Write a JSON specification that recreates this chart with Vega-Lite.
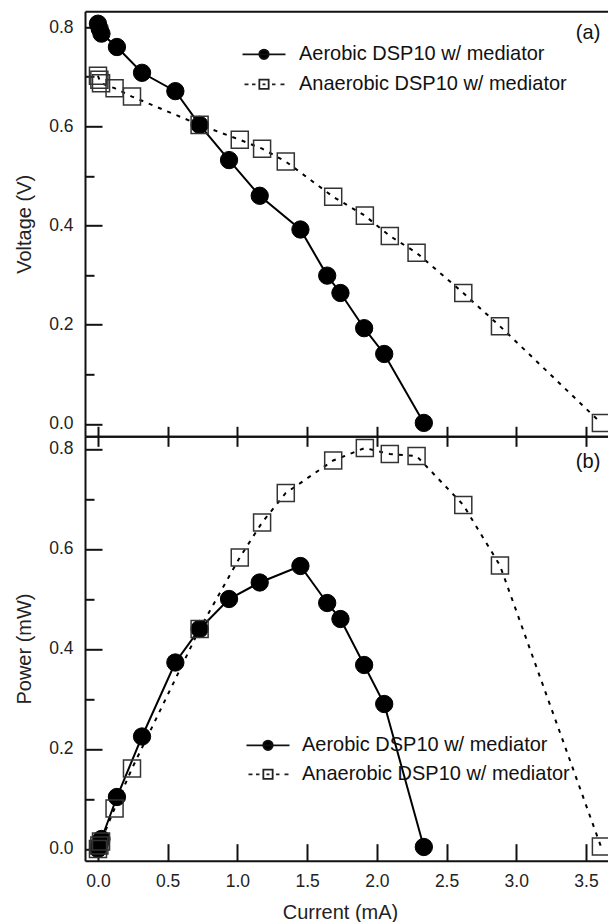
{
  "$schema": "https://vega.github.io/schema/vega-lite/v6.json",
  "padding": {"left": 14, "top": 11.3, "right": 0, "bottom": 0},
  "autosize": {"type": "pad"},
  "config": {
    "font": "Liberation Sans",
    "view": {"stroke": null},
    "axis": {"domainColor": "#111", "domainWidth": 2, "tickColor": "#111", "tickWidth": 2, "labelFontSize": 17.5, "labelColor": "#222", "titleFontSize": 20, "titleFontWeight": "normal", "titleColor": "#222", "grid": false, "labelFlush": false, "labelOverlap": false}
  },
  "data": {"values": [
    {"s": "Aerobic DSP10 w/ mediator", "i": 0.000, "v": 0.807, "p": 0.000},
    {"s": "Aerobic DSP10 w/ mediator", "i": 0.012, "v": 0.797, "p": 0.010},
    {"s": "Aerobic DSP10 w/ mediator", "i": 0.025, "v": 0.787, "p": 0.020},
    {"s": "Aerobic DSP10 w/ mediator", "i": 0.136, "v": 0.760, "p": 0.104},
    {"s": "Aerobic DSP10 w/ mediator", "i": 0.316, "v": 0.708, "p": 0.225},
    {"s": "Aerobic DSP10 w/ mediator", "i": 0.555, "v": 0.671, "p": 0.373},
    {"s": "Aerobic DSP10 w/ mediator", "i": 0.729, "v": 0.603, "p": 0.440},
    {"s": "Aerobic DSP10 w/ mediator", "i": 0.940, "v": 0.532, "p": 0.500},
    {"s": "Aerobic DSP10 w/ mediator", "i": 1.160, "v": 0.460, "p": 0.533},
    {"s": "Aerobic DSP10 w/ mediator", "i": 1.452, "v": 0.392, "p": 0.566},
    {"s": "Aerobic DSP10 w/ mediator", "i": 1.644, "v": 0.299, "p": 0.492},
    {"s": "Aerobic DSP10 w/ mediator", "i": 1.739, "v": 0.264, "p": 0.460},
    {"s": "Aerobic DSP10 w/ mediator", "i": 1.909, "v": 0.193, "p": 0.368},
    {"s": "Aerobic DSP10 w/ mediator", "i": 2.053, "v": 0.141, "p": 0.290},
    {"s": "Aerobic DSP10 w/ mediator", "i": 2.337, "v": 0.002, "p": 0.004},
    {"s": "Anaerobic DSP10 w/ mediator", "i": 0.000, "v": 0.702, "p": 0.000},
    {"s": "Anaerobic DSP10 w/ mediator", "i": 0.010, "v": 0.694, "p": 0.007},
    {"s": "Anaerobic DSP10 w/ mediator", "i": 0.022, "v": 0.687, "p": 0.015},
    {"s": "Anaerobic DSP10 w/ mediator", "i": 0.119, "v": 0.677, "p": 0.081},
    {"s": "Anaerobic DSP10 w/ mediator", "i": 0.244, "v": 0.660, "p": 0.161},
    {"s": "Anaerobic DSP10 w/ mediator", "i": 0.729, "v": 0.603, "p": 0.440},
    {"s": "Anaerobic DSP10 w/ mediator", "i": 1.017, "v": 0.573, "p": 0.583},
    {"s": "Anaerobic DSP10 w/ mediator", "i": 1.177, "v": 0.555, "p": 0.653},
    {"s": "Anaerobic DSP10 w/ mediator", "i": 1.347, "v": 0.529, "p": 0.712},
    {"s": "Anaerobic DSP10 w/ mediator", "i": 1.687, "v": 0.458, "p": 0.777},
    {"s": "Anaerobic DSP10 w/ mediator", "i": 1.914, "v": 0.420, "p": 0.802},
    {"s": "Anaerobic DSP10 w/ mediator", "i": 2.093, "v": 0.379, "p": 0.790},
    {"s": "Anaerobic DSP10 w/ mediator", "i": 2.285, "v": 0.345, "p": 0.786},
    {"s": "Anaerobic DSP10 w/ mediator", "i": 2.620, "v": 0.264, "p": 0.688},
    {"s": "Anaerobic DSP10 w/ mediator", "i": 2.883, "v": 0.197, "p": 0.567},
    {"s": "Anaerobic DSP10 w/ mediator", "i": 3.607, "v": 0.002, "p": 0.005}
  ]},
  "bounds": "flush",
  "spacing": 0,
  "resolve": {"scale": {"shape": "independent", "fill": "independent", "stroke": "independent"}, "legend": {"shape": "independent", "fill": "independent", "stroke": "independent"}},
  "vconcat": [
    {
      "width": 523.3,
      "height": 425,
      "title": {"text": "(a)", "orient": "top", "anchor": "end", "frame": "group", "offset": -32, "fontSize": 20, "fontWeight": "normal", "color": "#111", "dx": -8},
      "resolve": {"axis": {"x": "independent"}},
      "layer": [
        {
          "transform": [{"filter": "datum.s === 'Aerobic DSP10 w/ mediator'"}],
          "mark": {"type": "line", "color": "black", "strokeWidth": 2},
          "encoding": {
            "x": {"field": "i", "type": "quantitative", "scale": {"domain": [-0.093, 3.66], "nice": false, "zero": false},
                  "axis": {"orient": "bottom", "values": [0, 0.5, 1, 1.5, 2, 2.5, 3, 3.5], "labels": false, "tickSize": 10, "title": null}},
            "y": {"field": "v", "type": "quantitative", "scale": {"domain": [-0.025, 0.832], "nice": false, "zero": false},
                  "axis": {"values": [0, 0.05, 0.1, 0.15, 0.2, 0.25, 0.3, 0.35, 0.4, 0.45, 0.5, 0.55, 0.6, 0.65, 0.7, 0.75, 0.8],
                           "labelExpr": "abs(datum.value*5 - round(datum.value*5)) < 0.001 ? format(datum.value, '.1f') : ''",
                           "tickSize": {"condition": {"test": "abs(datum.value*5 - round(datum.value*5)) < 0.001", "value": -17}, "value": -9},
                           "labelPadding": 29, "title": "Voltage (V)", "titlePadding": 14}}
          }
        },
        {
          "transform": [{"filter": "datum.s === 'Anaerobic DSP10 w/ mediator'"}],
          "mark": {"type": "line", "color": "black", "strokeWidth": 2, "strokeDash": [4, 6]},
          "encoding": {
            "x": {"field": "i", "type": "quantitative", "axis": {"orient": "top", "labels": false, "ticks": false, "title": null}},
            "y": {"field": "v", "type": "quantitative"}
          }
        },
        {
          "transform": [{"filter": "datum.s === 'Aerobic DSP10 w/ mediator'"}],
          "mark": {"type": "point", "shape": "circle", "size": 300, "filled": true, "fill": "black", "stroke": "black", "strokeWidth": 1, "opacity": 1, "clip": true},
          "encoding": {
            "x": {"field": "i", "type": "quantitative", "axis": null},
            "y": {"field": "v", "type": "quantitative"}
          }
        },
        {
          "transform": [{"filter": "datum.s === 'Anaerobic DSP10 w/ mediator'"}],
          "mark": {"type": "point", "shape": "square", "size": 290, "filled": false, "fill": "transparent", "stroke": "#333", "strokeWidth": 1.5, "opacity": 1, "clip": true},
          "encoding": {
            "x": {"field": "i", "type": "quantitative", "axis": null},
            "y": {"field": "v", "type": "quantitative"}
          }
        },
        {
          "transform": [{"filter": "false"}],
          "mark": {"type": "point", "size": 100, "filled": true, "strokeWidth": 1.8, "opacity": 1},
          "encoding": {
            "x": {"field": "i", "type": "quantitative", "axis": null},
            "y": {"field": "v", "type": "quantitative"},
            "shape": {"field": "s", "type": "nominal", "scale": {"domain": ["Aerobic DSP10 w/ mediator", "Anaerobic DSP10 w/ mediator"], "range": ["M-4.3,0H4.3M0.95,0A0.95,0.95,0,1,1,-0.95,0A0.95,0.95,0,1,1,0.95,0Z", "M-3.9,0H-3.1M-2.4,0H-1.7M-0.93,-0.93H0.93V0.93H-0.93ZM-0.3,0H0.3M1.6,0H2.3M3.3,0H4.1"]},
              "legend": {"title": null, "orient": "none", "legendX": 169, "legendY": 33, "labelFontSize": 20, "labelLimit": 400, "labelOffset": 25, "labelColor": "#111", "symbolSize": 100, "symbolStrokeWidth": 1.8, "rowPadding": 10}},
            "fill": {"field": "s", "type": "nominal", "scale": {"domain": ["Aerobic DSP10 w/ mediator", "Anaerobic DSP10 w/ mediator"], "range": ["black", "transparent"]},
              "legend": {"title": null, "orient": "none", "legendX": 169, "legendY": 33, "labelFontSize": 20, "labelLimit": 400, "labelOffset": 25, "labelColor": "#111", "symbolSize": 100, "symbolStrokeWidth": 1.8, "rowPadding": 10}},
            "stroke": {"field": "s", "type": "nominal", "scale": {"domain": ["Aerobic DSP10 w/ mediator", "Anaerobic DSP10 w/ mediator"], "range": ["#111", "#222"]},
              "legend": {"title": null, "orient": "none", "legendX": 169, "legendY": 33, "labelFontSize": 20, "labelLimit": 400, "labelOffset": 25, "labelColor": "#111", "symbolSize": 100, "symbolStrokeWidth": 1.8, "rowPadding": 10}}
          }
        }
      ]
    },
    {
      "width": 523.3,
      "height": 424.4,
      "title": {"text": "(b)", "orient": "top", "anchor": "end", "frame": "group", "offset": -47, "fontSize": 20, "fontWeight": "normal", "color": "#111", "dx": -8},
      "resolve": {"axis": {"x": "independent"}},
      "layer": [
        {
          "transform": [{"filter": "datum.s === 'Aerobic DSP10 w/ mediator'"}],
          "mark": {"type": "line", "color": "black", "strokeWidth": 2},
          "encoding": {
            "x": {"field": "i", "type": "quantitative", "scale": {"domain": [-0.093, 3.66], "nice": false, "zero": false},
                  "axis": {"orient": "bottom", "values": [0, 0.5, 1, 1.5, 2, 2.5, 3, 3.5], "format": ".1f", "tickSize": -17, "labelPadding": 29, "title": "Current (mA)", "titlePadding": 12, "titleX": 255}},
            "y": {"field": "p", "type": "quantitative", "scale": {"domain": [-0.0234, 0.8254], "nice": false, "zero": false},
                  "axis": {"values": [0, 0.05, 0.1, 0.15, 0.2, 0.25, 0.3, 0.35, 0.4, 0.45, 0.5, 0.55, 0.6, 0.65, 0.7, 0.75, 0.8],
                           "labelExpr": "abs(datum.value*5 - round(datum.value*5)) < 0.001 ? format(datum.value, '.1f') : ''",
                           "tickSize": {"condition": {"test": "abs(datum.value*5 - round(datum.value*5)) < 0.001", "value": -17}, "value": -9},
                           "labelPadding": 29, "title": "Power (mW)", "titlePadding": 14}}
          }
        },
        {
          "transform": [{"filter": "datum.s === 'Anaerobic DSP10 w/ mediator'"}],
          "mark": {"type": "line", "color": "black", "strokeWidth": 2, "strokeDash": [4, 6]},
          "encoding": {
            "x": {"field": "i", "type": "quantitative", "axis": {"orient": "top", "values": [0, 0.5, 1, 1.5, 2, 2.5, 3, 3.5], "labels": false, "tickSize": 10, "title": null}},
            "y": {"field": "p", "type": "quantitative"}
          }
        },
        {
          "transform": [{"filter": "datum.s === 'Aerobic DSP10 w/ mediator'"}],
          "mark": {"type": "point", "shape": "circle", "size": 300, "filled": true, "fill": "black", "stroke": "black", "strokeWidth": 1, "opacity": 1, "clip": true},
          "encoding": {
            "x": {"field": "i", "type": "quantitative", "axis": null},
            "y": {"field": "p", "type": "quantitative"}
          }
        },
        {
          "transform": [{"filter": "datum.s === 'Anaerobic DSP10 w/ mediator'"}],
          "mark": {"type": "point", "shape": "square", "size": 290, "filled": false, "fill": "transparent", "stroke": "#333", "strokeWidth": 1.5, "opacity": 1, "clip": true},
          "encoding": {
            "x": {"field": "i", "type": "quantitative", "axis": null},
            "y": {"field": "p", "type": "quantitative"}
          }
        },
        {
          "transform": [{"filter": "false"}],
          "mark": {"type": "point", "size": 100, "filled": true, "strokeWidth": 1.8, "opacity": 1},
          "encoding": {
            "x": {"field": "i", "type": "quantitative", "axis": null},
            "y": {"field": "p", "type": "quantitative"},
            "shape": {"field": "s", "type": "nominal", "scale": {"domain": ["Aerobic DSP10 w/ mediator", "Anaerobic DSP10 w/ mediator"], "range": ["M-4.3,0H4.3M0.95,0A0.95,0.95,0,1,1,-0.95,0A0.95,0.95,0,1,1,0.95,0Z", "M-3.9,0H-3.1M-2.4,0H-1.7M-0.93,-0.93H0.93V0.93H-0.93ZM-0.3,0H0.3M1.6,0H2.3M3.3,0H4.1"]},
              "legend": {"title": null, "orient": "none", "legendX": 173, "legendY": 299, "labelFontSize": 20, "labelLimit": 400, "labelOffset": 24, "labelColor": "#111", "symbolSize": 100, "symbolStrokeWidth": 1.8, "rowPadding": 9}},
            "fill": {"field": "s", "type": "nominal", "scale": {"domain": ["Aerobic DSP10 w/ mediator", "Anaerobic DSP10 w/ mediator"], "range": ["black", "transparent"]},
              "legend": {"title": null, "orient": "none", "legendX": 173, "legendY": 299, "labelFontSize": 20, "labelLimit": 400, "labelOffset": 24, "labelColor": "#111", "symbolSize": 100, "symbolStrokeWidth": 1.8, "rowPadding": 9}},
            "stroke": {"field": "s", "type": "nominal", "scale": {"domain": ["Aerobic DSP10 w/ mediator", "Anaerobic DSP10 w/ mediator"], "range": ["#111", "#222"]},
              "legend": {"title": null, "orient": "none", "legendX": 173, "legendY": 299, "labelFontSize": 20, "labelLimit": 400, "labelOffset": 24, "labelColor": "#111", "symbolSize": 100, "symbolStrokeWidth": 1.8, "rowPadding": 9}}
          }
        }
      ]
    }
  ]
}
